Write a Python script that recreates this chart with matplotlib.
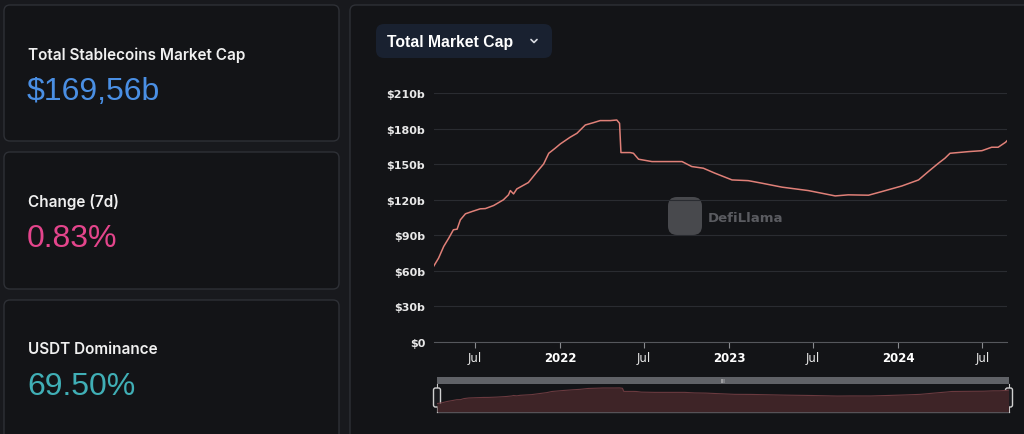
import matplotlib
matplotlib.use('Agg')
import matplotlib.pyplot as plt
import matplotlib.dates as mdates
from matplotlib.patches import FancyBboxPatch, Rectangle
import pandas as pd

# stablecoin total market cap, $ billions
dates = [
  '2021-04-02', '2021-04-13', '2021-04-24', '2021-05-05', '2021-05-15', '2021-05-23',
  '2021-05-30', '2021-06-10', '2021-06-24', '2021-07-12', '2021-07-23', '2021-08-10',
  '2021-08-31', '2021-09-11', '2021-09-15', '2021-09-22', '2021-09-29', '2021-10-24',
  '2021-11-12', '2021-11-26', '2021-12-07', '2021-12-21', '2022-01-01', '2022-01-22',
  '2022-02-06', '2022-02-24', '2022-03-14', '2022-03-28', '2022-04-19', '2022-05-03',
  '2022-05-09', '2022-05-12', '2022-06-01', '2022-06-08', '2022-06-19', '2022-07-18',
  '2022-09-21', '2022-10-12', '2022-11-06', '2022-12-01', '2023-01-07', '2023-02-11',
  '2023-03-13', '2023-04-25', '2023-06-21', '2023-08-18', '2023-09-15', '2023-10-29',
  '2023-11-27', '2024-01-09', '2024-02-14', '2024-03-06', '2024-03-28', '2024-04-11',
  '2024-04-22', '2024-06-01', '2024-06-30', '2024-07-21', '2024-08-04', '2024-08-20',
  '2024-08-23',
]
mcap = [
  63.5, 70.6, 80.4, 87.5, 94.5, 95.0,
  102.9, 108.0, 109.9, 112.2, 112.4, 115.0,
  119.8, 124.0, 127.6, 124.8, 129.0, 134.4,
  143.6, 150.1, 159.1, 163.4, 167.0, 172.6,
  176.0, 183.0, 185.0, 186.7, 186.7, 187.2,
  184.4, 159.7, 159.7, 159.1, 154.1, 152.1,
  152.1, 147.9, 146.5, 142.3, 136.6, 136.0,
  133.8, 130.5, 127.6, 123.1, 124.0, 123.7,
  126.8, 131.5, 136.6, 143.6, 150.7, 154.9,
  159.1, 160.5, 161.3, 164.2, 164.2, 168.4,
  169.6,
]

y_ticks = [0, 30, 60, 90, 120, 150, 180, 210]
x_ticks = ['2021-07-01', '2022-01-01', '2022-07-01', '2023-01-01', '2023-07-01', '2024-01-01', '2024-07-01']
x_labels = ['Jul', '2022', 'Jul', '2023', 'Jul', '2024', 'Jul']
x_range = ['2021-04-02', '2024-08-24']

cards = [
  ('Total Stablecoins Market Cap', '$169,56b', '#4a8fe4'),
  ('Change (7d)', '0.83%', '#e4458c'),
  ('USDT Dominance', '69.50%', '#40afb6'),
]

PAGE = '#18191d'
CARD = '#131417'
BORDER = '#2e3036'
LINE = '#e08078'
W, H = 1024, 435

fig = plt.figure(figsize=(W / 100, H / 100), dpi=100, facecolor=PAGE)

# background layer in pixel coordinates (cards, button, navigator frame)
bg = fig.add_axes([0, 0, 1, 1], zorder=0)
bg.set_xlim(0, W)
bg.set_ylim(H, 0)
bg.axis('off')


def rbox(x0, y0, x1, y1, fc, ec, r=6, lw=1.0, z=1):
  bg.add_patch(FancyBboxPatch((x0, y0), x1 - x0, y1 - y0,
                              boxstyle='round,pad=0,rounding_size=%g' % r,
                              fc=fc, ec=ec, lw=lw, zorder=z))


card_tops = [6, 153, 301]
card_bots = [142, 290, 460]
for (title, value, color), top, bot in zip(cards, card_tops, card_bots):
  rbox(4, top, 339, bot, CARD, BORDER)
  bg.text(28, top + 49, title, color='#f0f0f0', fontsize=11,
          family='Inter', weight='semibold', va='center', ha='left', zorder=3)
  bg.text(27, top + 86, value, color=color, fontsize=23,
          family='Liberation Sans', va='center', ha='left', zorder=3)

# right panel
rbox(350, 6, 1060, 460, CARD, BORDER)

# dropdown button
rbox(376, 25, 552, 59, '#192130', 'none', r=8)
bg.text(387, 42.5, 'Total Market Cap', color='#ffffff', fontsize=11.3,
        family='Liberation Sans', weight='bold', va='center', ha='left', zorder=3)
bg.plot([531, 534, 537], [40.5, 43.5, 40.5], color='#d8dbe2', lw=1.2, zorder=3,
        solid_capstyle='round')

# watermark
rbox(668, 198, 702, 236, '#48494d', 'none', r=9, z=2)
bg.text(708, 219, 'DefiLlama', color='#5a5b60', fontsize=9.5, weight='bold',
        family='DejaVu Sans', va='center', ha='left', zorder=2)

# navigator frame
bg.add_patch(Rectangle((437, 378), 572, 7, fc='#606267', ec='none', zorder=2))
bg.text(723, 381.5, 'III', color='#d8d8d8', fontsize=4, ha='center', va='center', zorder=3)
bg.plot([437, 1009], [412.7, 412.7], color='#5c5e63', lw=1.0, zorder=2)
for hx in (437, 1009):
  bg.plot([hx, hx], [385, 413], color='#c8c8c8', lw=0.8, zorder=4)
  rbox(hx - 3.5, 389, hx + 3.5, 408, '#1a1b1f', '#d0d0d0', r=2, lw=1.0, z=5)

dt = pd.to_datetime(dates)
xlim = pd.to_datetime(x_range)

# main chart
ax = fig.add_axes([433.5 / W, (H - 342.7) / H, 573.9 / W, 248.7 / H], zorder=1)
ax.set_facecolor('none')
ax.plot(dt, mcap, color=LINE, lw=1.1, zorder=3)
ax.set_xlim(xlim[0], xlim[1])
ax.set_ylim(0, 210)
ax.set_yticks(y_ticks)
ax.set_yticklabels(['$0' if v == 0 else '$%db' % v for v in y_ticks])
ax.grid(axis='y', color='#2a2c31', lw=0.8)
ax.set_axisbelow(True)
for s in ('top', 'right', 'left'):
  ax.spines[s].set_visible(False)
ax.spines['bottom'].set_color('#55575c')
ax.tick_params(axis='y', length=0, pad=6, labelcolor='#e8e8e8', labelsize=8)
ax.set_xticks(pd.to_datetime(x_ticks))
ax.set_xticklabels(x_labels)
ax.tick_params(axis='x', length=4, width=0.8, color='#8a8c90', pad=3,
               labelsize=8.5, labelcolor='#e8e8e8')
for lab in ax.get_xticklabels():
  if lab.get_text() != 'Jul':
    lab.set_fontweight('bold')
    lab.set_color('#ffffff')
for lab in ax.get_yticklabels():
  lab.set_fontweight('semibold')

# navigator mini chart
nav = fig.add_axes([437 / W, (H - 412.7) / H, 572 / W, 27.7 / H], zorder=1)
nav.set_facecolor('none')
nav.fill_between(dt, 0, mcap, color='#3e2427', lw=0)
nav.plot(dt, mcap, color='#6a3a3f', lw=0.8)
nav.set_xlim(xlim[0], xlim[1])
nav.set_ylim(0, 218)
nav.axis('off')

fig.savefig('out.png', dpi=100, facecolor=PAGE)
